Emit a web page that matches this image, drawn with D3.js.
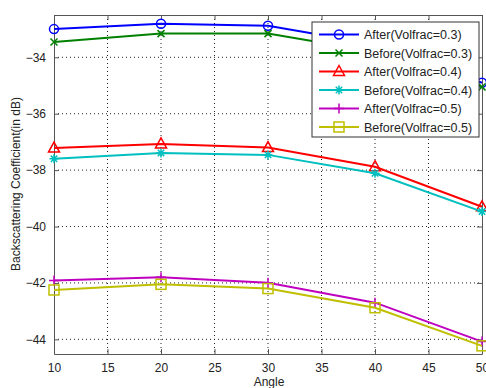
<!DOCTYPE html>
<html>
<head>
<meta charset="utf-8">
<script src="https://cdn.jsdelivr.net/npm/d3@7"></script>
<style>
  body { margin: 0; background: #fff; }
  svg { font-family: "Liberation Sans", Arial, sans-serif; }
  .grid line { stroke: #222; stroke-dasharray: 1 3; stroke-width: 1; }
</style>
</head>
<body>
<svg id="chart" width="486" height="388"></svg>
<script>
// angles on x axis
const angles = [10, 20, 30, 40, 50]
const xTicks = [10, 15, 20, 25, 30, 35, 40, 45, 50]
const yTicks = [-44, -42, -40, -38, -36, -34]

// backscattering coefficient in dB, one array per series
const after03 = [-33.0, -32.81, -32.88, -33.54, -34.9]
const before03 = [-33.46, -33.16, -33.16, -33.8, -35.05]
const after04 = [-37.22, -37.07, -37.2, -37.88, -39.3]
const before04 = [-37.6, -37.39, -37.46, -38.11, -39.47]
const after05 = [-41.91, -41.8, -41.99, -42.7, -44.08]
const before05 = [-42.25, -42.05, -42.2, -42.88, -44.23]

const seriesNames = ["After(Volfrac=0.3)", "Before(Volfrac=0.3)", "After(Volfrac=0.4)",
  "Before(Volfrac=0.4)", "After(Volfrac=0.5)", "Before(Volfrac=0.5)"]
const seriesValues = [after03, before03, after04, before04, after05, before05]
const colors = ["#0000ff", "#008000", "#ff0000", "#00bfbf", "#bf00bf", "#bfbf00"]
const markers = ["circle", "x", "triangle", "star", "plus", "square"]

let margin = {top: 15, right: 4, bottom: 34, left: 54}
let W = 486, H = 388
let svg = d3.select("#chart")

let x = d3.scaleLinear().domain([10, 50]).range([margin.left, W - margin.right])
let y = d3.scaleLinear().domain([-44.52, -32.5]).range([H - margin.bottom, margin.top])

// grid
let grid = svg.append("g").attr("class", "grid")
grid.selectAll(".vx").data(xTicks.slice(1, -1)).enter().append("line")
  .attr("x1", d => x(d)).attr("x2", d => x(d))
  .attr("y1", y.range()[1]).attr("y2", y.range()[0])
grid.selectAll(".hy").data(yTicks).enter().append("line")
  .attr("x1", x.range()[0]).attr("x2", x.range()[1])
  .attr("y1", d => y(d)).attr("y2", d => y(d))

// axes with inward ticks on all sides
function styleAxis(g) {
  g.select(".domain").attr("stroke", "#555")
  g.selectAll(".tick line").attr("stroke", "#555")
  g.selectAll("text").attr("font-size", 12).attr("fill", "#222")
    .attr("font-family", "Liberation Sans, Arial, sans-serif")
}
svg.append("g").attr("transform", `translate(0,${H - margin.bottom})`)
  .call(d3.axisBottom(x).tickValues(xTicks).tickSizeInner(-5).tickSizeOuter(0).tickPadding(9))
  .call(styleAxis)
svg.append("g").attr("transform", `translate(0,${margin.top})`)
  .call(d3.axisTop(x).tickValues(xTicks).tickSizeInner(-5).tickSizeOuter(0).tickFormat(""))
  .call(styleAxis)
svg.append("g").attr("transform", `translate(${margin.left},0)`)
  .call(d3.axisLeft(y).tickValues(yTicks).tickSizeInner(-5).tickSizeOuter(0).tickPadding(8)
    .tickFormat(d3.format("d")))
  .call(styleAxis)
svg.append("g").attr("transform", `translate(${W - margin.right},0)`)
  .call(d3.axisRight(y).tickValues(yTicks).tickSizeInner(-5).tickSizeOuter(0).tickFormat(""))
  .call(styleAxis)

// marker drawing
function marker(g, type, color, cx, cy) {
  let m = g.append("g").attr("transform", `translate(${cx},${cy})`)
    .attr("stroke", color).attr("stroke-width", 1.5).attr("fill", "none")
  if (type == "circle") m.append("circle").attr("r", 4.5)
  if (type == "square") m.append("rect").attr("x", -5).attr("y", -5).attr("width", 10).attr("height", 10)
  if (type == "triangle") m.append("path").attr("d", "M0,-6L5.5,4L-5.5,4Z")
  if (type == "plus") m.append("path").attr("d", "M-5,0H5M0,-5V5")
  if (type == "x") m.append("path").attr("d", "M-3.5,-3.5L3.5,3.5M-3.5,3.5L3.5,-3.5")
  if (type == "star") m.append("path").attr("d", "M-4.5,0H4.5M0,-4.5V4.5M-3.2,-3.2L3.2,3.2M-3.2,3.2L3.2,-3.2")
}

let line = d3.line().x((d, i) => x(angles[i])).y(d => y(d))
let plot = svg.append("g")
seriesValues.forEach((vals, k) => {
  plot.append("path").datum(vals).attr("d", line)
    .attr("fill", "none").attr("stroke", colors[k]).attr("stroke-width", 2)
  vals.forEach((v, i) => marker(plot, markers[k], colors[k], x(angles[i]), y(v)))
})

// legend
let lg = svg.append("g").attr("transform", "translate(312,22)")
lg.append("rect").attr("width", 167).attr("height", 115)
  .attr("fill", "#fff").attr("stroke", "#333").attr("stroke-width", 1)
seriesNames.forEach((name, k) => {
  let ry = 12.5 + k * 18.5
  lg.append("line").attr("x1", 7).attr("x2", 47).attr("y1", ry).attr("y2", ry)
    .attr("stroke", colors[k]).attr("stroke-width", 2)
  marker(lg, markers[k], colors[k], 27, ry)
  lg.append("text").attr("x", 52).attr("y", ry + 4.5).attr("font-size", 12.5)
    .attr("fill", "#222").text(name)
})

// axis titles
svg.append("text").attr("x", 269).attr("y", 386).attr("text-anchor", "middle")
  .attr("font-size", 12).attr("fill", "#222").text("Angle")
svg.append("text").attr("transform", "translate(20,184) rotate(-90)")
  .attr("text-anchor", "middle").attr("font-size", 12).attr("fill", "#222")
  .text("Backscattering Coefficient(in dB)")
</script>
</body>
</html>
